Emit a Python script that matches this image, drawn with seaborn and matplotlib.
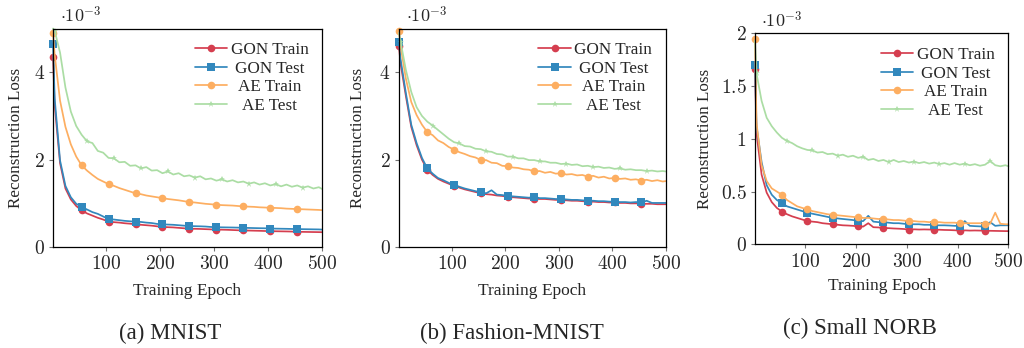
import matplotlib
matplotlib.use("Agg")
import matplotlib.pyplot as plt
from matplotlib.lines import Line2D
from matplotlib.ticker import FuncFormatter
import seaborn as sns

sns.set_style("ticks")
plt.rcParams['font.family'] = ['Liberation Serif', 'DejaVu Serif']
plt.rcParams['mathtext.fontset'] = 'cm'

epochs = [1] + list(range(4, 500, 10)) + [500]
marks = [0] + list(range(6, 47, 5))
marks_star = [1] + list(range(7, 48, 5))

series_names = ["GON Train", "GON Test", "AE Train", "AE Test"]
colors = ["#d53e4f", "#3288bd", "#fdae61", "#abdda4"]

mnist_gon_train = [4.35, 3.25, 1.92, 1.34, 1.09, 0.94, 0.84, 0.77, 0.72, 0.67,
                   0.63, 0.58, 0.57, 0.56, 0.545, 0.535, 0.52, 0.51, 0.50, 0.49,
                   0.475, 0.46, 0.455, 0.45, 0.44, 0.43, 0.42, 0.418, 0.415, 0.41,
                   0.405, 0.40, 0.398, 0.395, 0.39, 0.385, 0.38, 0.378, 0.375, 0.372,
                   0.368, 0.365, 0.362, 0.36, 0.358, 0.355, 0.35, 0.348, 0.346, 0.344,
                   0.342, 0.34]
mnist_gon_test = [4.65, 3.40, 1.98, 1.40, 1.14, 0.99, 0.92, 0.86, 0.80, 0.76,
                  0.70, 0.64, 0.63, 0.615, 0.60, 0.59, 0.58, 0.575, 0.56, 0.55,
                  0.53, 0.52, 0.515, 0.51, 0.50, 0.49, 0.48, 0.478, 0.475, 0.47,
                  0.46, 0.455, 0.452, 0.45, 0.448, 0.445, 0.44, 0.438, 0.435, 0.432,
                  0.43, 0.425, 0.422, 0.42, 0.418, 0.415, 0.412, 0.41, 0.408, 0.406,
                  0.404, 0.40]
mnist_ae_train = [4.90, 4.40, 3.35, 2.75, 2.35, 2.07, 1.87, 1.75, 1.65, 1.56,
                  1.50, 1.44, 1.40, 1.35, 1.31, 1.27, 1.23, 1.21, 1.18, 1.16,
                  1.14, 1.12, 1.10, 1.085, 1.07, 1.05, 1.03, 1.02, 1.005, 0.99,
                  0.98, 0.97, 0.96, 0.955, 0.95, 0.94, 0.93, 0.925, 0.92, 0.91,
                  0.905, 0.90, 0.895, 0.89, 0.88, 0.875, 0.87, 0.865, 0.86, 0.855,
                  0.85, 0.845]
mnist_ae_test = [5.00, 4.95, 4.45, 3.65, 3.10, 2.77, 2.57, 2.42, 2.38, 2.20,
                 2.16, 2.04, 2.03, 1.94, 1.95, 1.86, 1.87, 1.80, 1.83, 1.75,
                 1.76, 1.69, 1.73, 1.66, 1.69, 1.62, 1.64, 1.59, 1.62, 1.55,
                 1.57, 1.52, 1.55, 1.50, 1.53, 1.48, 1.50, 1.45, 1.48, 1.43,
                 1.46, 1.41, 1.44, 1.39, 1.43, 1.38, 1.41, 1.36, 1.39, 1.34,
                 1.37, 1.33]

fashion_gon_train = [4.60, 4.20, 3.45, 2.75, 2.33, 2.00, 1.77, 1.65, 1.56, 1.50,
                     1.45, 1.40, 1.36, 1.32, 1.29, 1.26, 1.23, 1.21, 1.20, 1.18,
                     1.17, 1.15, 1.14, 1.13, 1.12, 1.11, 1.11, 1.10, 1.10, 1.09,
                     1.08, 1.08, 1.07, 1.06, 1.06, 1.05, 1.04, 1.04, 1.03, 1.03,
                     1.02, 1.02, 1.01, 1.01, 1.00, 1.00, 0.99, 0.99, 0.99, 0.98,
                     0.98, 0.98]
fashion_gon_test = [4.70, 4.30, 3.52, 2.80, 2.38, 2.04, 1.80, 1.68, 1.58, 1.53,
                    1.47, 1.42, 1.38, 1.34, 1.31, 1.28, 1.25, 1.23, 1.30, 1.20,
                    1.19, 1.17, 1.16, 1.15, 1.14, 1.13, 1.15, 1.12, 1.12, 1.11,
                    1.10, 1.10, 1.09, 1.08, 1.08, 1.07, 1.06, 1.06, 1.05, 1.05,
                    1.04, 1.04, 1.03, 1.03, 1.02, 1.03, 1.02, 1.06, 1.01, 1.01,
                    1.01, 1.01]
fashion_ae_train = [4.95, 4.60, 3.85, 3.32, 3.02, 2.80, 2.63, 2.56, 2.44, 2.38,
                    2.29, 2.23, 2.17, 2.13, 2.08, 2.05, 1.99, 1.99, 1.93, 1.92,
                    1.86, 1.85, 1.82, 1.81, 1.78, 1.77, 1.73, 1.74, 1.70, 1.72,
                    1.68, 1.69, 1.66, 1.67, 1.64, 1.65, 1.61, 1.63, 1.59, 1.61,
                    1.57, 1.58, 1.56, 1.57, 1.54, 1.55, 1.52, 1.54, 1.51, 1.53,
                    1.50, 1.51]
fashion_ae_test = [4.90, 4.70, 4.05, 3.55, 3.20, 3.00, 2.87, 2.78, 2.68, 2.58,
                   2.48, 2.40, 2.37, 2.31, 2.30, 2.25, 2.24, 2.19, 2.18, 2.13,
                   2.12, 2.07, 2.07, 2.03, 2.03, 1.99, 1.99, 1.96, 1.96, 1.93,
                   1.93, 1.90, 1.91, 1.88, 1.89, 1.85, 1.86, 1.83, 1.84, 1.81,
                   1.82, 1.79, 1.80, 1.77, 1.78, 1.76, 1.76, 1.74, 1.75, 1.73,
                   1.74, 1.73]

norb_gon_train = [1.66, 1.05, 0.66, 0.49, 0.40, 0.345, 0.31, 0.285, 0.265, 0.25,
                  0.235, 0.22, 0.215, 0.21, 0.20, 0.195, 0.19, 0.185, 0.18, 0.178,
                  0.175, 0.17, 0.168, 0.20, 0.162, 0.16, 0.155, 0.153, 0.15, 0.148,
                  0.145, 0.14, 0.142, 0.14, 0.141, 0.14, 0.14, 0.138, 0.136, 0.135,
                  0.133, 0.13, 0.132, 0.13, 0.131, 0.13, 0.128, 0.128, 0.127, 0.126,
                  0.125, 0.125]
norb_gon_test = [1.70, 1.12, 0.78, 0.56, 0.47, 0.42, 0.39, 0.36, 0.345, 0.33,
                 0.315, 0.30, 0.29, 0.28, 0.27, 0.26, 0.25, 0.245, 0.24, 0.235,
                 0.23, 0.22, 0.22, 0.27, 0.215, 0.21, 0.21, 0.205, 0.20, 0.20,
                 0.195, 0.19, 0.19, 0.19, 0.185, 0.185, 0.18, 0.18, 0.18, 0.178,
                 0.175, 0.175, 0.22, 0.175, 0.172, 0.17, 0.17, 0.21, 0.175, 0.18,
                 0.18, 0.18]
norb_ae_train = [1.95, 1.15, 0.75, 0.60, 0.53, 0.50, 0.47, 0.42, 0.39, 0.36,
                 0.345, 0.33, 0.315, 0.305, 0.295, 0.285, 0.28, 0.275, 0.27, 0.265,
                 0.26, 0.255, 0.25, 0.25, 0.245, 0.24, 0.24, 0.235, 0.23, 0.23,
                 0.225, 0.22, 0.22, 0.215, 0.215, 0.21, 0.21, 0.21, 0.205, 0.205,
                 0.205, 0.20, 0.20, 0.20, 0.20, 0.20, 0.195, 0.195, 0.30, 0.195,
                 0.19, 0.19]
norb_ae_test = [1.93, 1.62, 1.36, 1.20, 1.12, 1.06, 1.01, 0.98, 0.96, 0.93,
                0.91, 0.895, 0.89, 0.87, 0.875, 0.855, 0.86, 0.84, 0.85, 0.83,
                0.84, 0.82, 0.83, 0.80, 0.81, 0.79, 0.80, 0.78, 0.80, 0.78,
                0.79, 0.775, 0.785, 0.77, 0.78, 0.765, 0.775, 0.76, 0.77, 0.755,
                0.77, 0.755, 0.765, 0.75, 0.76, 0.745, 0.755, 0.79, 0.75, 0.74,
                0.75, 0.74]

panels = [
    {"data": [mnist_gon_train, mnist_gon_test, mnist_ae_train, mnist_ae_test],
     "ylim": (0, 5), "yticks": [0, 2, 4], "caption": "(a) MNIST",
     "rect": [0.0518, 0.290, 0.2627, 0.628], "ylab_x": -0.138, "cap_xy": (0.166, 0.043)},
    {"data": [fashion_gon_train, fashion_gon_test, fashion_ae_train, fashion_ae_test],
     "ylim": (0, 5), "yticks": [0, 2, 4], "caption": "(b) Fashion-MNIST",
     "rect": [0.3896, 0.290, 0.2607, 0.628], "ylab_x": -0.154, "cap_xy": (0.5, 0.043)},
    {"data": [norb_gon_train, norb_gon_test, norb_ae_train, norb_ae_test],
     "ylim": (0, 2), "yticks": [0, 0.5, 1, 1.5, 2], "caption": "(c) Small NORB",
     "rect": [0.7373, 0.298, 0.2475, 0.606], "ylab_x": -0.197, "cap_xy": (0.840, 0.057)},
]

markers = ["o", "s", "o", "*"]
msizes = [5.5, 5.5, 5.5, 4.5]
mevery = [marks, marks, marks, marks_star]

fig = plt.figure(figsize=(10.24, 3.48), dpi=100)
fmt = FuncFormatter(lambda v, p: f"${v:g}$")
legends = []

for p in panels:
    ax = fig.add_axes(p["rect"])
    for vals, name, c, m, ms, me in zip(p["data"], series_names, colors, markers, msizes, mevery):
        sns.lineplot(x=epochs, y=vals, ax=ax, color=c, linewidth=1.25, marker=m,
                     markersize=ms, markevery=me, markeredgewidth=0,
                     errorbar=None, clip_on=False)
    ax.set_xlim(1, 500)
    ax.set_ylim(*p["ylim"])
    ax.set_xticks([100, 200, 300, 400, 500])
    ax.set_yticks(p["yticks"])
    ax.xaxis.set_major_formatter(fmt)
    ax.yaxis.set_major_formatter(fmt)
    ax.tick_params(length=3, width=0.8, color="0.45", labelsize=14, pad=3)
    for s in ax.spines.values():
        s.set_visible(True)
        s.set_linewidth(0.9)
        s.set_color("black")
    ax.set_xlabel("Training Epoch", fontsize=12.5)
    ax.set_ylabel("Reconstruction Loss", fontsize=12.3)
    ax.xaxis.set_label_coords(0.5, -0.2)
    ax.xaxis.label.set_va("center")
    ax.yaxis.set_label_coords(p["ylab_x"], 0.5)
    ax.yaxis.label.set_va("center")
    ax.text(0.025, 1.01, r"$\cdot 10^{-3}$", transform=ax.transAxes,
            fontsize=13, va="bottom", ha="left")
    handles = [Line2D([], [], color=c, marker=m, markersize=ms, markeredgewidth=0, linewidth=1.25)
               for c, m, ms in zip(colors, markers, msizes)]
    leg = ax.legend(handles, series_names, loc="upper right", frameon=False, fontsize=12.3,
                    handlelength=1.9, handletextpad=0.2, labelspacing=0.15,
                    borderaxespad=0.5, borderpad=0.3)
    legends.append(leg)
    fig.text(p["cap_xy"][0], p["cap_xy"][1], p["caption"], fontsize=16.5,
             ha="center", va="center")

# centre the legend entries like the original figure
fig.canvas.draw()
renderer = fig.canvas.get_renderer()
for leg in legends:
    texts = leg.get_texts()
    widths = [t.get_window_extent(renderer).width for t in texts]
    wmax = max(widths)
    for t, w in zip(texts, widths):
        t.set_position(((wmax - w) / 2, 0))

fig.savefig("out.png", dpi=100)
